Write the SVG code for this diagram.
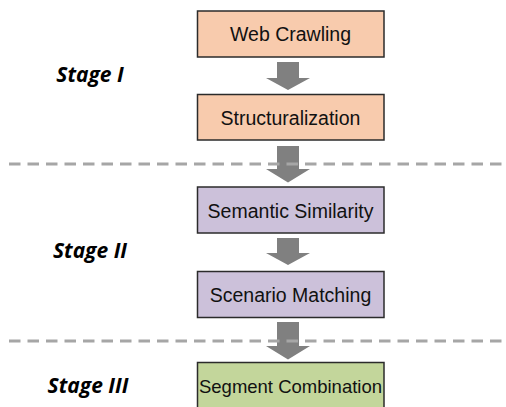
<svg xmlns="http://www.w3.org/2000/svg" width="506" height="407" viewBox="0 0 506 407">
  <style>
    .box { stroke: #2b2b2b; stroke-width: 1.5; }
    .orange { fill: #f8cbad; }
    .purple { fill: #ccc1da; }
    .green { fill: #c3d69b; }
    .label { font-family: "Liberation Sans", Arial, sans-serif; font-size: 19.5px; fill: #111; text-anchor: middle; }
    .stage { font-family: "Open Sans", "Liberation Sans", sans-serif; font-size: 21px; font-weight: bold; font-style: italic; fill: #000; text-anchor: middle; }
    .arrow { fill: #808080; }
    .divider { stroke: #a6a6a6; stroke-width: 3; stroke-dasharray: 11.5 7; fill: none; }
  </style>

  <!-- stage labels -->
  <text class="stage" x="90" y="82">Stage I</text>
  <text class="stage" x="90" y="258">Stage II</text>
  <text class="stage" x="88" y="393">Stage III</text>

  <!-- block arrows between steps -->
  <g id="connectors">
    <path class="arrow" d="M277,62 H299 V78 H310 L288,90 L266,78 H277 Z"/>
    <path class="arrow" d="M277,146 H299 V169 H310 L288,182.5 L266,169 H277 Z"/>
    <path class="arrow" d="M277,238 H299 V253 H310 L288,265 L266,253 H277 Z"/>
    <path class="arrow" d="M277,322 H299 V346 H310 L288,359.5 L266,346 H277 Z"/>
  </g>

  <!-- stage dividers -->
  <line class="divider" x1="9" y1="164" x2="506" y2="164"/>
  <line class="divider" x1="9" y1="341" x2="506" y2="341"/>

  <g id="web-crawling">
    <rect class="box orange" x="197.5" y="11" width="186.5" height="46"/>
    <text class="label" x="290.5" y="41">Web Crawling</text>
  </g>
  <g id="structuralization">
    <rect class="box orange" x="197.5" y="94.5" width="186.5" height="45.5"/>
    <text class="label" x="290.5" y="124.5">Structuralization</text>
  </g>
  <g id="semantic-similarity">
    <rect class="box purple" x="197.5" y="187" width="186.5" height="46"/>
    <text class="label" x="290.5" y="217.5">Semantic Similarity</text>
  </g>
  <g id="scenario-matching">
    <rect class="box purple" x="197.5" y="271.5" width="186.5" height="46"/>
    <text class="label" x="290.5" y="302">Scenario Matching</text>
  </g>
  <g id="segment-combination">
    <rect class="box green" x="197.5" y="362.5" width="186.5" height="47"/>
    <text class="label" x="290.5" y="393" style="font-size:18.5px">Segment Combination</text>
  </g>
</svg>
